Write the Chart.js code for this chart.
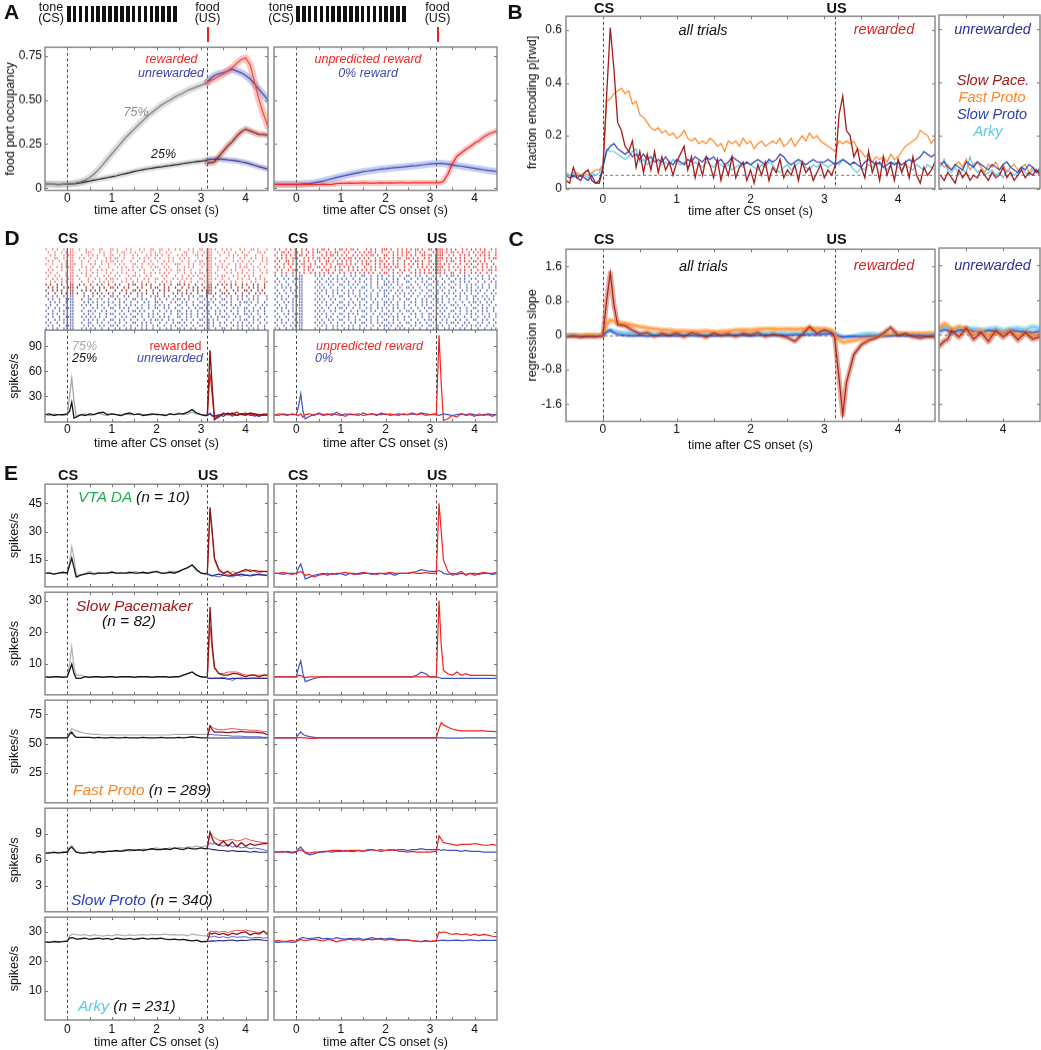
<!DOCTYPE html>
<html lang="en">
<head>
<meta charset="UTF-8">
<title>Reward encoding by cell type</title>
<script src="https://cdn.jsdelivr.net/npm/chart.js"></script>
<style>
  body { margin: 0; width: 1041px; height: 1050px; position: relative; overflow: hidden; background: #fff;
         font-family: "Liberation Sans", Arial, sans-serif; color: #111; }
  canvas { position: absolute; }
  .t { position: absolute; white-space: nowrap; transform: translate(-50%, -50%); line-height: 1; font-size: 12.5px; }
  .l { position: absolute; white-space: nowrap; transform: translate(0, -50%); line-height: 1; font-size: 15.5px; font-style: italic; }
  .it { font-style: italic; }
  .letter { font-weight: bold; font-size: 21px; }
  .ev { font-weight: bold; font-size: 14.5px; }
  .bars { position: absolute; background: repeating-linear-gradient(to right, #111 0, #111 3.6px, transparent 3.6px, transparent 5.9px); }
  .food { position: absolute; width: 2.5px; height: 15px; background: #f01e1e; }
</style>
</head>
<body>

<!-- panel letters -->
<div class="t letter" style="left:11.5px;top:11px">A</div>
<div class="t letter" style="left:515px;top:11px">B</div>
<div class="t letter" style="left:516px;top:238px">C</div>
<div class="t letter" style="left:12px;top:237px">D</div>
<div class="t letter" style="left:11px;top:472px">E</div>

<!-- A: task schematic -->
<div class="t" style="left:51px;top:7px">tone</div>
<div class="t" style="left:51px;top:18px">(CS)</div>
<div class="bars" style="left:67px;top:6px;width:112px;height:16px"></div>
<div class="t" style="left:207.5px;top:7px">food</div>
<div class="t" style="left:207.5px;top:18px">(US)</div>
<div class="food" style="left:206.5px;top:27px"></div>
<div class="t" style="left:281px;top:7px">tone</div>
<div class="t" style="left:281px;top:18px">(CS)</div>
<div class="bars" style="left:296px;top:6px;width:112px;height:16px"></div>
<div class="t" style="left:437.5px;top:7px">food</div>
<div class="t" style="left:437.5px;top:18px">(US)</div>
<div class="food" style="left:436.5px;top:27px"></div>

<!-- A annotations -->
<div class="t it" style="left:171.5px;top:59px;color:#f02828">rewarded</div>
<div class="t it" style="left:171px;top:73px;color:#3a40a8">unrewarded</div>
<div class="t it" style="left:136px;top:112px;color:#8c8c8c">75%</div>
<div class="t it" style="left:163.5px;top:154px;color:#111">25%</div>
<div class="t it" style="left:368px;top:59px;color:#f02828">unpredicted reward</div>
<div class="t it" style="left:368px;top:73px;color:#3a4ab0">0% reward</div>

<!-- B annotations -->
<div class="t ev" style="left:604px;top:8px">CS</div>
<div class="t ev" style="left:836.5px;top:8px">US</div>
<div class="t it" style="left:703px;top:29.5px;font-size:14.5px">all trials</div>
<div class="t it" style="left:884px;top:28.5px;font-size:14.5px;color:#d42323">rewarded</div>
<div class="t it" style="left:992.5px;top:28.5px;font-size:14.5px;color:#2a2e98">unrewarded</div>
<div class="t it" style="left:993px;top:80px;font-size:14.5px;color:#a01818">Slow Pace.</div>
<div class="t it" style="left:992px;top:97px;font-size:14.5px;color:#ff8422">Fast Proto</div>
<div class="t it" style="left:992px;top:114px;font-size:14.5px;color:#2a40b8">Slow Proto</div>
<div class="t it" style="left:988px;top:131px;font-size:14.5px;color:#5ac8e6">Arky</div>

<!-- C annotations -->
<div class="t ev" style="left:604px;top:238.5px">CS</div>
<div class="t ev" style="left:836.5px;top:238.5px">US</div>
<div class="t it" style="left:703.5px;top:265.5px;font-size:14.5px">all trials</div>
<div class="t it" style="left:884px;top:265px;font-size:14.5px;color:#d42323">rewarded</div>
<div class="t it" style="left:992.5px;top:265px;font-size:14.5px;color:#2a2e98">unrewarded</div>

<!-- D annotations -->
<div class="t ev" style="left:68px;top:238px">CS</div>
<div class="t ev" style="left:208px;top:238px">US</div>
<div class="t ev" style="left:298px;top:238px">CS</div>
<div class="t ev" style="left:437px;top:238px">US</div>
<div class="t it" style="left:84.5px;top:345.7px;color:#a8a8a8">75%</div>
<div class="t it" style="left:84.5px;top:358px;color:#111">25%</div>
<div class="t" style="left:175.5px;top:345.7px;color:#f02828">rewarded</div>
<div class="t it" style="left:170px;top:358px;color:#3a4ab0">unrewarded</div>
<div class="t it" style="left:369.5px;top:345.7px;color:#f02828">unpredicted reward</div>
<div class="t it" style="left:324px;top:358px;color:#3a4ab0">0%</div>

<!-- E annotations -->
<div class="t ev" style="left:68px;top:475px">CS</div>
<div class="t ev" style="left:208px;top:475px">US</div>
<div class="t ev" style="left:298px;top:475px">CS</div>
<div class="t ev" style="left:437px;top:475px">US</div>
<div class="l" style="left:78px;top:497px"><span style="color:#1fae50">VTA DA</span> (n = 10)</div>
<div class="l" style="left:76px;top:606px;color:#a01818">Slow Pacemaker</div>
<div class="l" style="left:102px;top:621px">(n = 82)</div>
<div class="l" style="left:73px;top:790px"><span style="color:#ff8422">Fast Proto</span> (n = 289)</div>
<div class="l" style="left:71px;top:900px"><span style="color:#2a40b8">Slow Proto</span> (n = 340)</div>
<div class="l" style="left:78px;top:1006px"><span style="color:#5ac8e6">Arky</span> (n = 231)</div>

<script>
// ---------- time grids ----------
const T_PRE = [-0.5, -0.4, -0.3, -0.2, -0.1, 0, 0.05, 0.1, 0.15, 0.2,
  0.3, 0.4, 0.5, 0.6, 0.7, 0.8, 0.9, 1.0, 1.1, 1.2,
  1.3, 1.4, 1.5, 1.6, 1.7, 1.8, 1.9, 2.0, 2.1, 2.2,
  2.3, 2.4, 2.5, 2.6, 2.7, 2.8, 2.9, 3.0, 3.1, 3.14];
const T_POST = [3.14, 3.2, 3.25, 3.3, 3.4, 3.5, 3.6, 3.7, 3.8, 3.9, 4.0, 4.1, 4.2, 4.3, 4.4, 4.5];
const T_FULL = T_PRE.concat(T_POST.slice(1));
const T_B = [-0.5, -0.45, -0.4, -0.35, -0.3, -0.25, -0.2, -0.15, -0.1, -0.05,
  0, 0.05, 0.1, 0.15, 0.2, 0.25, 0.3, 0.35, 0.4, 0.45,
  0.5, 0.55, 0.6, 0.65, 0.7, 0.75, 0.8, 0.85, 0.9, 0.95,
  1, 1.05, 1.1, 1.15, 1.2, 1.25, 1.3, 1.35, 1.4, 1.45,
  1.5, 1.55, 1.6, 1.65, 1.7, 1.75, 1.8, 1.85, 1.9, 1.95,
  2, 2.05, 2.1, 2.15, 2.2, 2.25, 2.3, 2.35, 2.4, 2.45,
  2.5, 2.55, 2.6, 2.65, 2.7, 2.75, 2.8, 2.85, 2.9, 2.95,
  3, 3.05, 3.1, 3.15, 3.2, 3.25, 3.3, 3.35, 3.4, 3.45,
  3.5, 3.55, 3.6, 3.65, 3.7, 3.75, 3.8, 3.85, 3.9, 3.95,
  4, 4.05, 4.1, 4.15, 4.2, 4.25, 4.3, 4.35, 4.4, 4.45, 4.5];
const T_B2 = T_B.slice(73);
const BIN_HALF = 0.025;
const CS_T = 0, US_T = 3.14;

const X_TITLE = 'time after CS onset (s)';
const X_LABELS = [0, 1, 2, 3, 4];
const X_MINOR = [0, 0.5, 1, 1.5, 2, 2.5, 3, 3.5, 4];
const X_SMALL_LABELS = [4];
const X_SMALL_MINOR = [3.5, 4];

// ---------- A: food port occupancy ----------
const A_PRE75 = [0.022, 0.022, 0.022, 0.021, 0.022, 0.023, 0.024, 0.025, 0.027, 0.03,
  0.036, 0.045, 0.06, 0.08, 0.105, 0.135, 0.165, 0.195, 0.225, 0.255,
  0.285, 0.31, 0.335, 0.36, 0.385, 0.41, 0.43, 0.45, 0.47, 0.485,
  0.5, 0.515, 0.53, 0.54, 0.555, 0.565, 0.575, 0.585, 0.595, 0.6];
const A_PRE25 = [0.022, 0.022, 0.022, 0.021, 0.022, 0.022, 0.023, 0.024, 0.025, 0.026,
  0.03, 0.035, 0.04, 0.045, 0.05, 0.055, 0.06, 0.065, 0.07, 0.077,
  0.082, 0.088, 0.095, 0.1, 0.105, 0.11, 0.113, 0.118, 0.12, 0.125,
  0.128, 0.132, 0.135, 0.14, 0.143, 0.147, 0.15, 0.153, 0.157, 0.158];
const A_RWD75 = [0.6, 0.61, 0.615, 0.62, 0.635, 0.65, 0.665, 0.685, 0.71, 0.73, 0.74, 0.7, 0.6, 0.5, 0.42, 0.35];
const A_UNR75 = [0.605, 0.62, 0.63, 0.64, 0.65, 0.655, 0.665, 0.675, 0.665, 0.655, 0.64, 0.62, 0.59, 0.56, 0.53, 0.5];
const A_RWD25 = [0.14, 0.145, 0.145, 0.15, 0.18, 0.21, 0.24, 0.265, 0.295, 0.32, 0.335, 0.325, 0.315, 0.305, 0.305, 0.3];
const A_UNR25 = [0.16, 0.165, 0.165, 0.165, 0.165, 0.163, 0.16, 0.158, 0.155, 0.15, 0.145, 0.138, 0.13, 0.122, 0.115, 0.108];
const A_ZERO = [0.022, 0.022, 0.022, 0.022, 0.022, 0.022, 0.022, 0.023, 0.024, 0.025,
  0.027, 0.03, 0.035, 0.04, 0.047, 0.053, 0.06, 0.066, 0.072, 0.078,
  0.083, 0.088, 0.093, 0.097, 0.1, 0.104, 0.108, 0.11, 0.113, 0.116,
  0.118, 0.12, 0.123, 0.126, 0.128, 0.131, 0.134, 0.137, 0.139, 0.14,
  0.141, 0.14, 0.139, 0.136, 0.132, 0.128, 0.124, 0.12, 0.116, 0.112, 0.108, 0.104, 0.1, 0.097, 0.094];
const A_UNPRED = [0.02, 0.02, 0.02, 0.02, 0.02, 0.02, 0.02, 0.02, 0.02, 0.02,
  0.02, 0.021, 0.021, 0.022, 0.02, 0.022, 0.026, 0.028, 0.028, 0.029,
  0.028, 0.029, 0.03, 0.029, 0.028, 0.029, 0.03, 0.029, 0.03, 0.029,
  0.03, 0.03, 0.029, 0.03, 0.03, 0.031, 0.03, 0.03, 0.031, 0.031,
  0.031, 0.033, 0.04, 0.08, 0.14, 0.18, 0.2, 0.22, 0.235, 0.255, 0.27, 0.29, 0.305, 0.315, 0.325];
const A_YTICKS = [0, 0.25, 0.5, 0.75];
const A_YLABELS = ['0', '0.25', '0.50', '0.75'];

// ---------- B: fraction encoding p[rwd] ----------
const B_SLOWPACE = [0.03, 0.02, 0.08, 0.04, 0.03, 0.06, 0.07, 0.03, 0.02, 0.02,
  0.07, 0.35, 0.61, 0.45, 0.25, 0.22, 0.16, 0.14, 0.18, 0.08,
  0.14, 0.06, 0.13, 0.07, 0.14, 0.06, 0.12, 0.07, 0.1, 0.05,
  0.1, 0.13, 0.16, 0.07, 0.12, 0.04, 0.1, 0.05, 0.12, 0.09,
  0.04, 0.11, 0.03, 0.09, 0.05, 0.12, 0.04, 0.08, 0.1, 0.03,
  0.07, 0.02, 0.09, 0.05, 0.1, 0.03, 0.08, 0.06, 0.11, 0.04,
  0.07, 0.05, 0.09, 0.03, 0.1, 0.06, 0.08, 0.03, 0.06, 0.09,
  0.04, 0.07, 0.05, 0.09, 0.28, 0.35, 0.22, 0.2, 0.12, 0.15,
  0.08, 0.04, 0.14, 0.06, 0.1, 0.03, 0.12, 0.05, 0.09, 0.03,
  0.11, 0.06, 0.1, 0.04, 0.12, 0.05, 0.02, 0.08, 0.05, 0.07, 0.1];
const B_FASTPROTO = [0.05, 0.05, 0.04, 0.06, 0.05, 0.06, 0.05, 0.06, 0.07, 0.07,
  0.09, 0.33, 0.34, 0.36, 0.37, 0.38, 0.36, 0.37, 0.32, 0.33,
  0.28, 0.27, 0.25, 0.23, 0.22, 0.23, 0.21, 0.22, 0.2, 0.21,
  0.19, 0.2, 0.22, 0.19, 0.18, 0.19, 0.17, 0.18, 0.17, 0.19,
  0.18, 0.16, 0.17, 0.14, 0.18, 0.17, 0.18, 0.16, 0.19, 0.17,
  0.18, 0.15, 0.17, 0.18, 0.16, 0.17, 0.18, 0.17, 0.19, 0.16,
  0.17, 0.19, 0.16, 0.18, 0.2, 0.18, 0.21, 0.19, 0.2, 0.18,
  0.17, 0.16, 0.15, 0.14, 0.18, 0.17, 0.18, 0.17, 0.18, 0.15,
  0.14, 0.12, 0.13, 0.1, 0.12, 0.11, 0.12, 0.1, 0.13, 0.11,
  0.12, 0.14, 0.16, 0.17, 0.18, 0.19, 0.22, 0.21, 0.2, 0.17, 0.19];
const B_SLOWPROTO = [0.05, 0.04, 0.05, 0.04, 0.05, 0.04, 0.03, 0.05, 0.02, 0.03,
  0.08, 0.14, 0.16, 0.17, 0.15, 0.14, 0.13, 0.14, 0.12, 0.13,
  0.11, 0.13, 0.11, 0.12, 0.1, 0.11, 0.1, 0.12, 0.1, 0.09,
  0.11, 0.1, 0.09, 0.11, 0.1, 0.12, 0.11, 0.1, 0.12, 0.11,
  0.12, 0.1, 0.11, 0.09, 0.1, 0.12, 0.11, 0.1, 0.09, 0.1,
  0.09, 0.1, 0.11, 0.1, 0.09, 0.11, 0.1, 0.11, 0.13, 0.12,
  0.1, 0.09, 0.1, 0.11, 0.1, 0.09, 0.1, 0.11, 0.1, 0.1,
  0.1, 0.11, 0.1, 0.09, 0.1, 0.11, 0.1, 0.09, 0.1, 0.09,
  0.08, 0.1, 0.11, 0.1, 0.09, 0.1, 0.08, 0.09, 0.1, 0.09,
  0.1, 0.09, 0.1, 0.11, 0.1, 0.11, 0.12, 0.14, 0.13, 0.12, 0.13];
const B_ARKY = [0.06, 0.05, 0.06, 0.04, 0.05, 0.05, 0.04, 0.06, 0.05, 0.06,
  0.09, 0.15, 0.14, 0.14, 0.13, 0.12, 0.11, 0.12, 0.14, 0.15,
  0.1, 0.11, 0.09, 0.1, 0.12, 0.1, 0.09, 0.1, 0.09, 0.11,
  0.1, 0.09, 0.1, 0.08, 0.09, 0.1, 0.09, 0.08, 0.1, 0.09,
  0.08, 0.1, 0.09, 0.08, 0.09, 0.07, 0.08, 0.09, 0.08, 0.1,
  0.09, 0.08, 0.07, 0.09, 0.08, 0.1, 0.09, 0.07, 0.06, 0.08,
  0.09, 0.07, 0.08, 0.1, 0.09, 0.08, 0.07, 0.09, 0.08, 0.1,
  0.09, 0.08, 0.09, 0.1, 0.09, 0.11, 0.1, 0.09, 0.07, 0.06,
  0.08, 0.07, 0.09, 0.08, 0.1, 0.09, 0.08, 0.07, 0.09, 0.1,
  0.08, 0.07, 0.09, 0.08, 0.07, 0.09, 0.08, 0.07, 0.09, 0.08, 0.07];
const B2_SLOWPACE = [0.05, 0.03, 0.06, 0.04, 0.02, 0.07, 0.04, 0.06, 0.03, 0.05, 0.04, 0.07, 0.05, 0.03,
  0.06, 0.04, 0.05, 0.08, 0.04, 0.06, 0.03, 0.05, 0.07, 0.04, 0.06, 0.05, 0.07, 0.05];
const B2_FASTPROTO = [0.1, 0.08, 0.09, 0.07, 0.09, 0.1, 0.08, 0.11, 0.07, 0.09, 0.1, 0.08, 0.06, 0.09,
  0.08, 0.1, 0.07, 0.09, 0.06, 0.08, 0.09, 0.07, 0.08, 0.09, 0.06, 0.08, 0.07, 0.06];
const B2_SLOWPROTO = [0.09, 0.1, 0.08, 0.07, 0.09, 0.08, 0.07, 0.1, 0.09, 0.08, 0.1, 0.09, 0.08, 0.07,
  0.09, 0.08, 0.07, 0.09, 0.1, 0.08, 0.07, 0.06, 0.08, 0.07, 0.09, 0.08, 0.06, 0.07];
const B2_ARKY = [0.08, 0.11, 0.07, 0.06, 0.08, 0.05, 0.07, 0.06, 0.12, 0.08, 0.06, 0.07, 0.05, 0.06,
  0.07, 0.05, 0.06, 0.04, 0.07, 0.06, 0.05, 0.06, 0.08, 0.06, 0.05, 0.07, 0.06, 0.08];
const B_CHANCE = 0.05;
const B_YTICKS = [0, 0.2, 0.4, 0.6];
const B_YLABELS = ['0', '0.2', '0.4', '0.6'];

// ---------- C: regression slope ----------
const C_SLOWPACE = [-0.03, -0.01, -0.04, -0.02, -0.03, -0.01, 0.8, 1.45, 0.7, 0.25,
  0.22, 0.12, 0.03, 0.06, -0.02, 0.04, 0.0, 0.05, -0.03, 0.06,
  0.02, -0.04, 0.05, 0.0, 0.03, -0.02, 0.04, 0.01, 0.06, -0.02,
  0.03, 0.0, -0.05, -0.14, 0.02, 0.2, 0.04, 0.12, 0.06, -0.05,
  -1.0, -1.85, -1.1, -0.45, -0.22, -0.12, -0.06, 0.05, 0.18, 0.0, 0.04, -0.03, -0.06, -0.03, -0.04];
const C_FASTPROTO = [0.0, -0.01, 0.0, 0.01, 0.0, 0.0, 0.25, 0.35, 0.33, 0.3,
  0.28, 0.24, 0.2, 0.17, 0.15, 0.13, 0.12, 0.1, 0.1, 0.09,
  0.09, 0.1, 0.08, 0.09, 0.1, 0.12, 0.13, 0.12, 0.14, 0.15,
  0.15, 0.14, 0.15, 0.14, 0.15, 0.15, 0.16, 0.15, 0.12, 0.05,
  -0.1, -0.16, -0.15, -0.12, -0.08, -0.05, -0.03, 0.0, 0.02, 0.05, 0.03, 0.05, 0.04, 0.05, 0.05];
const C_ARKY = [0.0, 0.0, -0.01, 0.0, 0.0, 0.0, 0.08, 0.12, 0.1, 0.08,
  0.06, 0.05, 0.04, 0.04, 0.03, 0.03, 0.03, 0.02, 0.03, 0.02,
  0.02, 0.03, 0.02, 0.02, 0.03, 0.03, 0.04, 0.03, 0.04, 0.05,
  0.04, 0.05, 0.04, 0.05, 0.06, 0.05, 0.06, 0.06, 0.07, 0.06,
  0.0, -0.04, -0.05, -0.02, 0.02, 0.04, 0.03, 0.0, 0.02, 0.03, 0.02, 0.0, 0.02, 0.01, 0.02];
const C_SLOWPROTO = [-0.02, -0.01, -0.02, -0.01, -0.02, -0.01, 0.08, 0.12, 0.06, 0.02,
  0.0, -0.01, 0.0, -0.02, 0.0, -0.01, 0.0, -0.01, 0.0, 0.0,
  -0.01, 0.0, -0.01, 0.0, 0.0, 0.01, 0.0, -0.01, 0.0, 0.01,
  0.0, 0.01, 0.0, 0.02, 0.01, 0.02, 0.02, 0.03, 0.04, 0.03,
  -0.02, -0.04, -0.03, -0.02, -0.03, -0.02, -0.01, -0.02, -0.01, 0.0, -0.01, 0.0, 0.0, -0.01, 0.0];
const C2_SLOWPACE = [-0.25, -0.15, -0.1, 0.1, -0.05, 0.15, -0.1, 0.05, -0.15, 0.1, -0.05, 0.08, -0.12, 0.05, -0.1, -0.05];
const C2_FASTPROTO = [0.15, 0.25, 0.2, 0.1, 0.18, 0.12, 0.05, 0.1, 0.0, 0.08, 0.05, 0.1, -0.02, 0.05, 0.0, 0.02];
const C2_ARKY = [0.12, 0.18, 0.15, 0.1, 0.15, 0.12, 0.14, 0.1, 0.12, 0.15, 0.1, 0.13, 0.15, 0.12, 0.18, 0.15];
const C2_SLOWPROTO = [0.08, 0.12, 0.1, 0.05, 0.1, 0.12, 0.08, 0.05, 0.1, 0.08, 0.05, 0.1, 0.08, 0.06, 0.05, 0.08];
const C_YTICKS = [-1.6, -0.8, 0, 0.8, 1.6];
const C_YLABELS = ['-1.6', '-0.8', '0', '0.8', '1.6'];

// ---------- D: example neuron ----------
const D_RASTER_L_RWD75 = [
  "x..x.x..x. .xx..x..x. .x..xx...x x.x...x.x. ..x.x..xx. .xx..x..x. x...x.x..x x..xx.x..x .x.x...x.x ..xx.x...x",
  ".x..x..x.x .xx.....xx x...x.x..x ..x.xx..x. x..x...x.x .x..x.x... ..xx..x.x. .x.xx..x.. x.x..x..x. .x...xx.x.",
  "..x.x...x. xxx...x..x .x.x..x..x x..x.x...x .x...x.x.x x.x..x...x .x.x...xx. x..xx...x. ..x.x.x..x x...x..x..",
  "x...xx..x. .xx..x.x.. x..x...x.x .xx..x...x ..x.x.x..x .x...x.x.. x.x.x...x. ..xxx.x... .x..x..x.x ..x.x..x.x",
  ".x.x..x..x .xx...x..x ..x..x.x.x x.x.x...x. .x..x..x.. x..x.x.x.. .x..x..x.x x..xx...x. x...x.x.x. .x.x...x.x",
  "x..x...x.x .xxx..x... x.x..x..x. .x.x.x...x x..x..x.x. ..x.x...xx x...x.x..x .x.xx.x..x ..x..x.x.. x.x...x..x",
  "..x..x.x.x xxx...x.x. .x..x...x. ..x.x.x..x .x.x...x.x x..x.x...x ..x.x.x... x..xx..x.x .x...x.x.x x..x.x..x.",
  ".x.x...x.. .xx..x..x. x..x.x.x.. x...x..x.x ..x.x...x. .x..x.x..x x.x..x...x ..xxx..x.. x..x.x..x. .x.x..x..x",
  "x.x..x...x .xx...x.x. .x.x...x.x ..x.x.x... x...x..x.x .x.x.x...x ..x..x.x.x x..xx.x... .x.x..x.x. x..x...x.x",
  ".x..x.x..x .xx.x...x. x..x..x.x. .x.x...x.x x.x..x.x.. ..x.x...x. .x..x.x.x. .x.xx..x.x x...x.x..x .x.x..x...",
  "x..x.x.x.. xxx..x...x ..x.x..x.x x.x...x.x. .x..x.x..x x..x...x.x .x.x.x...x x..xx.x..x ..x...x.x. .x..x.x.x.",
  "..x.x..x.x .xx...x..x .x..x.x.x. x...x.x..x .x.x..x..x ..x.x.x... x.x..x..x. .x.xx...x. x..x.x..x. ..x.x...xx"];
const D_RASTER_L_RWD25 = [
  "x.x..x.x.. .xx..x.x.. x..x.x..x. .x.x...x.x x..x.x.x.. .x.x..x..x x.x.x..x.. x..xx..x.x .x.x.x..x. x..x.x..x.",
  ".x.x.x..x. xxx.x...x. .x..x.x..x x.x..x.x.. .x.x...x.x x..x.x..x. .x..x.x.x. .x.xx.x... x..x..x.x. .x.x.x..x.",
  "x..x.x.x.. .xx...x.x. x.x.x..x.. .x..x.x..x x.x..x..x. .x.x.x...x x..x..x.x. x.xxx...x. .x..x.x..x x.x..x.x..",
  ".x..x..x.x .xx.x..x.. .x.x.x..x. x..x..x.x. .x.x.x..x. x..x...x.x .x.x.x..x. ..xxx.x..x x.x..x..x. .x..x.x.x."];
const D_RASTER_L_UNR = [
  "x..x.x..x. .xx....x.x .x..x.x..x x.x..x.x.. .x.x...x.x x..x.x..x. .x..x.x..x x.x..x..x. .x.x..x.x. x..x.x...x",
  ".x.x..x..x xxx...x..x x..x.x..x. .x.x..x..x x..x.x...x .x..x..x.x x.x.x...x. .x..x.x..x x..x..x.x. .x.x.x...x",
  "..x.x.x..x .xx....x.x .x.x..x.x. x..x.x..x. .x..x.x..x x.x...x.x. .x.x..x..x x..x.x..x. .x.x...x.x x.x..x..x.",
  "x.x..x..x. .xx...x.x. x..x.x..x. .x.x..x.x. x..x..x..x .x.x.x...x x..x..x.x. .x.x..x..x x..x.x.x.. .x..x..x.x",
  ".x..x.x..x xxx....x.. .x.x..x..x x..x.x.x.. .x.x..x..x x..x.x..x. .x..x..x.x x.x.x..x.. .x..x.x..x x..x..x.x.",
  "x..x..x.x. .xx...x..x x.x..x.x.. .x..x..x.x x.x.x...x. .x..x.x..x x..x.x..x. .x.x..x.x. x..x..x..x .x.x.x..x.",
  ".x.x.x..x. .xx....x.x .x..x..x.x x..x.x..x. .x.x..x.x. x..x..x..x .x.x.x..x. x..x..x.x. .x..x.x..x x.x..x..x.",
  "x..x..x..x xxx...x.x. x.x.x..x.. .x..x.x..x x..x..x.x. .x.x.x...x x..x.x..x. .x..x..x.x x.x..x.x.. .x.x..x..x",
  ".x..x.x.x. .xx....x.x .x.x..x..x x..x.x..x. .x..x..x.x x.x..x.x.. .x.x..x..x x..x.x.x.. .x..x..x.x x..x.x..x.",
  "x.x..x..x. .xx...x..x x..x.x..x. .x.x..x..x x..x.x.x.. .x..x..x.x x.x..x..x. .x.x.x..x. x..x..x.x. .x.x..x..x",
  ".x.x..x..x xxx....x.x .x..x.x..x x.x..x..x. .x.x.x..x. x..x..x.x. .x.x..x..x x..x.x..x. .x..x.x.x. x.x..x..x.",
  "x..x.x..x. .xx...x.x. x.x..x..x. .x.x..x.x. x..x.x..x. .x..x.x..x x.x..x.x.. .x.x..x..x x..x..x.x. .x.x.x..x."];
const D_RASTER_R_UNPRED = [
  "x.x..x.x.x ..x.x..x.x .xx.x..x.x x.x.xx.x.. .x.x.x..xx x.x..x.x.x .x.xx.x..x x.xxxx.x.x .x..x.x.x. x.x.x..x.x",
  ".x.xx.x..x x.x..x.x.x x..x.x.xx. .x.x..x.x. x.xx.x..x. .x.x.x.x.x x..x.x.x.. .x.xxx.x.x x.x.x..x.x .x.xx.x..x",
  "x..x.x.x.x .xx.x..x.. .x.x.xx.x. x.x..x.x.x .x.xx.x..x x..x.x.x.x .x.x..xx.x x.xxxx..x. x..x.x.x.. x.x.x.x..x",
  ".x.x.x..xx x..x.x.x.x x.x.x..x.x .x.xx.x.x. x.x..x.x.x .x.x.xx..x x.x.x..x.x ..xxxx.x.x .x.x.x..x. .x..x.x.xx",
  "x.x..xx.x. .x.x.x..x. x..xx.x.x. x.x.x..x.x .x.x.x.xx. x..x.x..x. .x.xx.x..x x.xxx..x.x x..x.x.x.x x.x.x..x..",
  ".x..x.x.x. x.xx..x.x. .x.x.x..xx x.x.x.x..x .xx..x.x.x .x.x.x..x. x.x.x.x..x .xxxx.x.x. .x.x..x.x. .x.x.x..x.",
  "x.x.x..x.. .x.x.xx..x x.x..x.x.x .x.x.x.x.. x..x.x.x.x x.x.xx..x. .x..x.x.x. x.xxxx..x. x.x..x.x.x x..x.x.x.x",
  ".x.x..x.xx x..x.x.x.. .x.xx..x.x x..x.x.x.x .x.x.x..x. .x.x..x.x. x..x.x.x.x .xxxx.x.x. .x.x.x..x. .x.x..xx.x",
  "x..x.x..x. .x.x..x.x. x.x.x.x..x .x..x.x.x. x.x.x..x.x x..x.x.x.. .x.x.x.x.x x.xxx.x..x x..x.x..x. x.x..x.x.."];
const D_RASTER_R_ZERO = [
  "x..x.x..x. .xx.....x. x.x..x..x. .x..x.x..x x..x..x.x. .x.x..x..x x..x.x..x. .x..x..x.x x.x..x.x.. .x.x..x..x",
  ".x..x.x..x xxx......x .x..x.x.x. x.x..x..x. .x.x..x.x. x..x.x..x. .x..x.x..x x.x..x..x. .x.x.x..x. x..x..x.x.",
  "x.x..x..x. .xx.....x. x..x.x..x. .x.x..x.x. x..x..x..x .x.x.x...x x..x..x.x. .x.x..x..x x..x.x.x.. .x..x..x.x",
  ".x.x..x..x .xx......x .x..x.x..x x..x.x.x.. .x.x..x..x x.x..x.x.. .x..x..x.x x..x.x..x. .x.x..x.x. x..x..x..x",
  "x..x.x.x.. xxx.....x. x.x..x..x. .x..x.x..x x..x..x.x. .x.x..x..x x.x..x..x. .x..x.x..x x..x..x.x. .x.x..x..x",
  ".x..x..x.x .xx......x .x.x..x.x. x..x.x..x. .x..x..x.x x.x..x.x.. .x.x..x..x x..x.x..x. .x..x.x.x. x.x..x..x.",
  "x.x..x..x. .xx.....x. x..x..x.x. .x.x.x..x. x..x..x..x .x..x.x.x. x.x..x..x. .x.x..x.x. x..x.x..x. .x..x..x.x",
  ".x.x..x..x xxx......x .x..x.x..x x..x..x.x. .x.x..x..x x..x.x..x. .x..x..x.x x.x..x.x.. .x.x..x..x x..x.x..x.",
  "x..x.x..x. .xx.....x. x.x..x.x.. .x..x..x.x x..x.x..x. .x.x..x..x x..x..x.x. .x.x.x..x. x..x..x..x .x..x.x.x.",
  ".x..x.x.x. .xx......x .x.x..x..x x..x.x..x. .x..x.x..x x.x..x..x. .x.x..x.x. x..x.x..x. .x..x..x.x x.x..x.x..",
  "x.x..x..x. xxx.....x. x..x.x..x. .x.x..x.x. x..x..x..x .x.x.x..x. x..x..x.x. .x..x.x..x x.x..x..x. .x.x..x..x",
  ".x.x.x..x. .xx......x .x..x..x.x x.x..x..x. .x.x..x.x. x..x.x..x. .x..x..x.x x..x.x.x.. .x.x..x..x x..x.x..x.",
  "x..x..x.x. .xx.....x. x.x..x.x.. .x..x..x.x x..x.x..x. .x.x..x..x x.x..x..x. .x..x.x..x x..x..x.x. .x.x.x..x.",
  ".x..x.x..x xxx......x .x.x..x..x x..x.x.x.. .x..x..x.x x.x..x.x.. .x.x..x..x x..x.x..x. .x.x..x.x. x..x..x..x",
  "x.x..x..x. .xx.....x. x..x.x..x. .x.x..x..x x..x..x.x. .x.x.x..x. x..x..x..x .x..x.x.x. x.x..x..x. .x..x.x..x",
  ".x.x..x..x .xx......x .x..x.x..x x..x..x.x. .x.x..x..x x..x.x..x. .x..x..x.x x.x..x.x.. .x.x..x..x x..x.x..x.",
  "x..x.x..x. xxx.....x. x.x..x..x. .x..x.x..x x..x..x.x. .x.x..x..x x..x.x..x. .x..x..x.x x.x..x.x.. .x.x..x..x",
  ".x..x..x.x .xx......x .x.x..x.x. x..x.x..x. .x..x..x.x x.x..x.x.. .x.x..x..x x..x.x..x. .x..x.x.x. x.x..x..x.",
  "x.x..x..x. .xx.....x. x..x..x.x. .x.x.x..x. x..x..x..x .x..x.x.x. x.x..x..x. .x.x..x.x. x..x.x..x. .x..x..x.x"];
const D_PRE75 = [8, 7, 9, 8, 7, 8, 30, 52, 25, 6, 8, 9, 7, 8, 10, 8, 7, 9, 8, 7,
  9, 8, 8, 9, 8, 7, 8, 9, 8, 7, 9, 8, 10, 8, 9, 11, 9, 8, 7, 8];
const D_PRE25 = [8, 9, 7, 8, 8, 9, 12, 23, 4, 5, 8, 7, 9, 8, 10, 11, 8, 9, 8, 7,
  9, 10, 8, 9, 7, 8, 9, 8, 8, 7, 9, 8, 9, 9, 11, 14, 10, 8, 7, 7];
const D_RWD25 = [7, 85, 40, 2, 6, 9, 8, 10, 7, 9, 8, 10, 9, 8, 8, 7];
const D_RWD75 = [7, 58, 30, 3, 7, 10, 8, 9, 11, 8, 10, 8, 9, 7, 9, 8];
const D_UNR75 = [8, 10, 6, 7, 5, 10, 9, 6, 11, 8, 7, 9, 6, 8, 7, 8];
const D_UNR25 = [7, 9, 7, 6, 8, 6, 10, 8, 7, 9, 10, 7, 8, 6, 8, 9];
const D_ZERO = [8, 7, 9, 8, 8, 8, 18, 33, 12, 3, 6, 8, 9, 7, 8, 9, 8, 7, 9, 8,
  8, 9, 7, 8, 9, 8, 8, 9, 7, 8, 9, 8, 8, 9, 8, 10, 9, 8, 9, 8,
  7, 8, 9, 8, 7, 8, 9, 8, 9, 8, 7, 8, 9, 8, 8];
const D_UNPRED = [7, 9, 8, 7, 9, 8, 7, 9, 5, 8, 9, 7, 10, 8, 9, 7, 11, 8, 6, 9,
  8, 7, 10, 8, 9, 7, 10, 8, 9, 8, 7, 9, 8, 10, 8, 9, 7, 8, 8, 8,
  103, 45, 1, 3, 7, 5, 9, 7, 8, 6, 9, 7, 8, 6, 9];
const D_YTICKS = [30, 60, 90];

// ---------- E: population PSTHs by cell type ----------
// VTA DA
const E1_PRE75 = [8, 8.5, 7.5, 8, 8, 8.5, 14, 22, 16, 7, 7, 8, 9, 8, 8.5, 8, 8, 9, 8, 8.5,
  8, 8, 9, 8.5, 8, 8, 9, 8.5, 8, 8, 9, 9, 8.5, 10, 11, 12, 9, 8, 8, 8];
const E1_PRE25 = [8, 8, 7.5, 8, 8.5, 8, 12, 16, 11, 6, 7, 7.5, 8, 7.5, 8, 8, 8, 8.5, 8, 8,
  8, 8.5, 8, 8, 8.5, 8, 8.5, 9, 8, 8, 8.5, 8, 9, 10, 11, 12.5, 10, 8, 7.5, 8];
const E1_RWD25 = [8, 43, 30, 16, 10, 8, 9, 7, 8, 9, 10, 9, 9.5, 9, 9, 9];
const E1_RWD75 = [8, 40, 28, 15, 9, 8, 7, 9, 8, 9, 9, 10, 9, 8, 9, 8.5];
const E1_UNR75 = [8, 7, 7, 6.5, 6, 7, 6.5, 6, 7, 6.5, 7, 7, 7.5, 7, 7, 6.5];
const E1_UNR25 = [7.5, 7, 6.5, 7, 7.5, 7, 6.5, 7, 7, 7.5, 7, 6.5, 7, 7.5, 7, 7];
const E1_ZERO = [8, 8, 7.5, 8, 8, 8, 11, 13, 9, 5, 6, 7, 7.5, 8, 7, 8, 7.5, 8, 7, 8,
  8, 7.5, 8, 8, 7.5, 8, 8, 7.5, 8, 7, 8, 8, 8, 8.5, 9, 10, 9.5, 9, 9, 9,
  9.5, 9, 8, 7.5, 8, 7.5, 8, 7.5, 8, 8, 7.5, 8, 8, 7.5, 8];
const E1_UNPRED = [8, 8, 8.5, 8, 7.5, 8, 8.5, 9, 8, 7, 7.5, 6, 7, 7.5, 8, 7.5, 8, 8, 8.5, 8,
  7.5, 8, 8.5, 8, 8, 7.5, 8, 8, 8.5, 8, 8, 8, 8, 8.5, 8, 8, 8.5, 8, 8, 8.5,
  45, 30, 15, 9, 7, 8, 9, 7, 8, 7, 8, 8.5, 8, 8, 8.5];
const E1_YTICKS = [15, 30, 45];
// Slow Pacemaker
const E2_PRE75 = [6, 6, 6, 6, 6, 6, 10, 15.5, 9, 6.5, 6.5, 6, 6, 6, 6, 6, 6, 6, 6, 6,
  6, 6, 6, 6, 6, 6, 6, 6, 6, 6, 6, 6, 6, 6.5, 7, 7.5, 6.5, 6, 6, 6];
const E2_PRE25 = [6, 5.8, 6, 6, 5.8, 6, 8, 10, 7, 5.5, 5.5, 6, 5.8, 6, 6, 5.8, 6, 6, 5.8, 6,
  6, 6, 5.8, 6, 6, 6, 5.8, 6, 6, 6, 5.8, 6, 6, 6.5, 7, 7.5, 6.5, 6, 5.8, 6];
const E2_RWD25 = [6, 28, 16, 9, 7, 6.5, 6.5, 7, 7, 6.5, 6, 6.5, 6.5, 6, 6.5, 6.5];
const E2_RWD75 = [6, 22, 14, 8.5, 7, 7, 7.5, 7.5, 7.5, 7, 6.5, 6.5, 6.5, 6.5, 6.5, 6.5];
const E2_UNR75 = [5.5, 5.5, 5.5, 5.5, 5.5, 5.8, 5.5, 4.8, 5.5, 5.3, 5.5, 5.5, 5.5, 5.5, 5.5, 5.5];
const E2_UNR25 = [5.5, 5.6, 5.4, 5.6, 5.5, 5.5, 5.2, 5.5, 5.5, 5.6, 5.4, 5.5, 5.6, 5.5, 5.5, 5.5];
const E2_ZERO = [6, 6, 6, 6, 6, 6, 9, 11, 7, 4.5, 5, 5.5, 5.8, 6, 6, 6, 6, 6, 6, 6,
  6, 6, 6, 6, 6, 6, 6, 6, 6, 6, 6, 6, 6, 6, 6.5, 7.5, 7, 6, 6, 6,
  5.8, 5.5, 5.5, 5.5, 5.5, 5.5, 5.5, 5.5, 5.5, 5.5, 5.5, 5.5, 5.5, 5.5, 5.5];
const E2_UNPRED = [6, 6, 6, 6, 6, 6, 6.5, 6.5, 6, 5.8, 6, 6, 6, 6, 6, 6, 6, 6, 6, 6,
  6, 6, 6, 6, 6, 6, 6, 6, 6, 6, 6, 6, 6, 6, 6, 6, 6, 6, 6, 6,
  30, 16, 8, 7, 6.5, 7.5, 6.5, 7, 6.5, 6.5, 6.5, 6.5, 6.5, 6.5, 6.3];
const E2_YTICKS = [10, 20, 30];
// Fast Proto
const E3_PRE75 = [55, 55, 55, 55, 55, 55.5, 60, 63, 62, 61, 60, 59, 58.5, 58, 58, 57.5, 57.5, 57.5, 57.5, 57.5,
  57.5, 57.5, 57.5, 57.5, 57.5, 57.5, 57.5, 57.5, 57.5, 57.5, 57.5, 58, 58, 58, 58, 58, 58, 58, 58, 58];
const E3_PRE25 = [55, 55, 55, 55, 55, 55, 58, 60, 57, 55.5, 55.5, 55.5, 55.5, 55, 55.5, 55, 55, 55.5, 55, 55,
  55.5, 55, 55, 55, 55.5, 55, 55, 55, 55.5, 55, 55, 55, 55.5, 55, 55.5, 56, 55.5, 55, 55, 55];
const E3_RWD75 = [58, 66, 64, 63, 62, 62, 62.5, 63, 62.5, 62, 62, 61.5, 61.5, 61, 60.5, 60];
const E3_RWD25 = [55, 65, 62, 60, 60, 60, 59.5, 60, 60, 60.5, 60, 60, 60, 59.5, 59, 57.5];
const E3_UNR75 = [58, 58, 58, 57.5, 57.5, 57, 57, 56.5, 56.5, 56.5, 56, 56, 56, 56, 55.5, 55.5];
const E3_UNR25 = [55, 55, 55, 55, 55, 55, 55, 55, 55, 55, 55, 55, 55, 55, 55, 55];
const E3_ZERO = [55, 55, 55, 55, 55, 55, 58, 60, 58, 57, 56, 55.5, 55, 55, 55, 55, 55, 55, 55, 55,
  55, 55, 55, 55, 55, 55, 55, 55, 55, 55, 55, 55, 55, 55, 55, 55, 55, 55, 55, 55,
  55, 55, 55, 54.8, 54.8, 54.8, 54.8, 55, 55, 55, 55, 55, 55, 55, 55];
const E3_UNPRED = [55, 55, 55, 55, 55, 55, 55, 55.5, 55, 55, 54.5, 54.5, 55, 55, 55, 55, 55, 55, 55, 55,
  55, 55, 55, 55, 55, 55, 55, 55, 55, 55, 55, 55, 55, 55, 55, 55, 55, 55, 55, 55,
  63, 68, 66, 64, 62.5, 61.5, 61, 61, 61, 61, 61, 61, 60.5, 60.5, 60];
const E3_YTICKS = [25, 50, 75];
// Slow Proto
const E4_PRE75 = [6.8, 6.9, 6.8, 6.9, 6.8, 7, 7.5, 7.7, 7.3, 7, 6.8, 6.9, 6.9, 7, 6.9, 7, 7, 7.1, 7, 7.1,
  7.2, 7, 7.2, 7.1, 7.3, 7.2, 7.3, 7.4, 7.3, 7.3, 7.4, 7.3, 7.5, 7.4, 7.5, 7.5, 7.6, 7.5, 7.6, 7.6];
const E4_PRE25 = [6.8, 6.8, 6.9, 6.8, 6.9, 6.9, 7.3, 7.5, 7.2, 6.9, 6.8, 6.8, 6.9, 6.8, 7, 6.9, 7, 7, 7.1, 7,
  7.1, 7.2, 7.1, 7.2, 7.1, 7.2, 7.3, 7.2, 7.2, 7.3, 7.2, 7.4, 7.3, 7.2, 7.4, 7.3, 7.3, 7.4, 7.3, 7.4];
const E4_RWD75 = [7.6, 9.3, 8.8, 8.6, 8.3, 8.2, 8.3, 8.4, 8.2, 8.3, 8.5, 8.3, 8.2, 8.1, 8.0, 8.0];
const E4_RWD25 = [7.4, 9.2, 8.5, 8.0, 7.7, 8.2, 7.6, 8.1, 7.5, 8.0, 7.6, 7.9, 7.7, 7.8, 7.9, 7.9];
const E4_UNR75 = [7.6, 8.0, 7.8, 7.9, 7.7, 7.6, 7.8, 7.5, 7.6, 7.4, 7.5, 7.3, 7.4, 7.3, 7.2, 7.0];
const E4_UNR25 = [7.3, 7.3, 7.2, 7.2, 7.1, 7.1, 7.0, 7.1, 7.0, 7.0, 7.0, 6.9, 7.0, 6.9, 6.9, 6.9];
const E4_ZERO = [6.9, 6.9, 7, 6.9, 6.8, 6.9, 7.3, 7.5, 7.2, 6.8, 6.6, 6.7, 6.9, 6.9, 7, 6.9, 7, 7, 7.1, 7,
  7, 7.1, 7, 7.1, 7.2, 7.1, 7, 7.1, 7.2, 7.1, 7.2, 7.2, 7.1, 7.2, 7.2, 7.3, 7.2, 7.2, 7.2, 7.2,
  7.2, 7.1, 7.2, 7.1, 7.1, 7.1, 7, 7.1, 7, 7, 7, 6.9, 6.9, 6.9, 6.9];
const E4_UNPRED = [7, 6.9, 6.9, 7, 6.9, 7, 7.1, 7.2, 7, 6.9, 6.8, 6.9, 6.9, 7, 7, 7.1, 7.1, 7.1, 7, 7.1,
  7.1, 7.1, 7, 7.2, 7.2, 7.1, 7.2, 7.1, 7.1, 7.2, 7, 7, 6.9, 7, 6.9, 6.9, 6.9, 6.9, 7, 7,
  8.8, 8.4, 8, 7.9, 7.8, 7.7, 7.8, 7.8, 7.8, 7.9, 7.8, 7.7, 7.7, 7.8, 7.7];
const E4_YTICKS = [3, 6, 9];
// Arky
const E5_PRE75 = [26.5, 26.5, 26.8, 26.6, 26.7, 27, 28.5, 29, 29.2, 29, 28.8, 29, 28.6, 29, 28.7, 28.5, 28.8, 28.6, 29, 28.8,
  28.6, 28.9, 28.7, 28.9, 29, 28.8, 29.1, 28.9, 29, 29.2, 28.9, 29, 28.8, 29, 28.6, 29.2, 28.9, 28.7, 28.6, 28.6];
const E5_PRE25 = [26.5, 26.4, 26.6, 26.5, 26.6, 26.8, 27.8, 28, 27.8, 27.5, 27.6, 27.8, 27.4, 27.6, 27.8, 27.5, 27.7, 27.3, 27.8, 27.6,
  27.5, 27.7, 27.4, 27.6, 27.8, 27.5, 27.7, 27.6, 27.8, 27.5, 27.3, 27.5, 27.2, 27.4, 27.1, 26.9, 27.1, 26.6, 26.7, 26.6];
const E5_RWD75 = [28.6, 30.3, 30, 30.2, 29.8, 30.1, 29.7, 30.2, 30.5, 30.3, 30.6, 30.2, 30, 29.6, 30.1, 29.5];
const E5_RWD25 = [26.8, 29.5, 29.2, 29.6, 29, 29.4, 28.8, 29.5, 29.1, 29.7, 29.9, 28.9, 29.5, 29.2, 30.2, 28.9];
const E5_UNR75 = [28.4, 28.2, 28.3, 28.5, 28, 28.3, 27.9, 28.4, 28.1, 28.2, 28.3, 27.8, 28, 28.1, 27.8, 28];
const E5_UNR25 = [26.7, 26.8, 26.9, 26.8, 27, 26.9, 27.1, 27.2, 26.9, 27.1, 27, 27.2, 27.4, 27.3, 27.1, 27];
const E5_ZERO = [26.4, 26.3, 26.5, 26.6, 26.3, 26.5, 27.4, 27.8, 28, 27.8, 27.6, 27.8, 28, 27.5, 27.7, 27.4, 27.9, 27.6, 27.4, 27.7,
  27.5, 27.8, 27.3, 27.6, 27.9, 27.5, 27.7, 27.4, 27.8, 27.5, 27.3, 27.1, 27.2, 26.8, 26.7, 26.6, 26.9, 26.6, 26.7, 26.8,
  26.9, 27, 27.1, 26.9, 27, 27.1, 26.9, 27, 27.2, 27, 26.9, 27.1, 27, 27, 27];
const E5_UNPRED = [26.8, 26.9, 26.7, 26.8, 27, 26.7, 27, 27.3, 27.1, 27, 27.2, 27.4, 27.1, 26.8, 27.3, 27.1, 26.5, 27, 27.2, 27.4,
  27.1, 27.3, 27, 27.4, 27.2, 27.5, 27.3, 27.1, 27.4, 27.2, 27, 27.3, 27.1, 26.9, 26.8, 26.6, 26.8, 26.7, 26.9, 27,
  29.8, 29.6, 29.9, 29.5, 29, 29.3, 28.9, 29.2, 28.7, 29.1, 28.6, 29, 28.8, 28.4, 28.3];
const E5_YTICKS = [10, 20, 30];

// ---------- colours ----------
const RED = 'rgb(240,35,35)';
const DKRED = 'rgb(140,20,20)';
const BLUE = 'rgb(60,80,200)';
const NAVY = 'rgb(40,40,135)';
const GRAY = 'rgb(165,165,165)';
const BLACK = 'rgb(20,20,20)';
const SLOWPACE = 'rgb(165,25,25)';
const FASTPROTO = 'rgb(255,135,35)';
const SLOWPROTO = 'rgb(40,60,185)';
const ARKY = 'rgb(90,200,230)';

Chart.defaults.font.family = '"Liberation Sans", Arial, sans-serif';
Chart.defaults.color = '#111';
Chart.defaults.animation = false;

const PAD = 10;

function pts(xs, ys) { return ys.map((y, i) => ({ x: xs[i], y: y })); }

function line(xs, ys, color, width) {
  return { data: pts(xs, ys), borderColor: color, borderWidth: width || 1.2, pointRadius: 0,
           fill: false, tension: 0, order: 1, clip: 0 };
}
function band(xs, ys, color, width) {
  return { data: pts(xs, ys), borderColor: color, borderWidth: width, pointRadius: 0, fill: false,
           tension: 0, order: 2, clip: 0, borderJoinStyle: 'round', borderCapStyle: 'round' };
}
function raster(rows, offset, color) {
  const out = [];
  rows.forEach((row, r) => {
    row.replace(/ /g, '').split('').forEach((ch, i) => {
      if (ch === 'x') out.push({ x: T_B[i] + BIN_HALF, y: offset + r + 0.5 });
    });
  });
  // short vertical dashes, a little shorter than one row so rows stay apart
  return { type: 'scatter', data: out, pointStyle: 'line', rotation: 90, radius: 1.2,
           borderWidth: 1.3, borderColor: color, backgroundColor: color, clip: 0 };
}

// frame, inner ticks and reference lines
const framePlugin = {
  id: 'frame',
  beforeDatasetsDraw(chart, args, o) {
    const { ctx, chartArea: a } = chart;
    const sx = chart.scales.x, sy = chart.scales.y;
    ctx.save();
    ctx.beginPath(); ctx.rect(a.left, a.top, a.right - a.left, a.bottom - a.top); ctx.clip();
    ctx.lineWidth = 1; ctx.strokeStyle = 'rgb(70,70,70)'; ctx.setLineDash([3, 2.5]);
    (o.vdash || []).forEach(v => {
      const px = Math.round(sx.getPixelForValue(v)) + 0.5;
      ctx.beginPath(); ctx.moveTo(px, a.top); ctx.lineTo(px, a.bottom); ctx.stroke();
    });
    ctx.strokeStyle = 'rgb(120,120,120)';
    (o.hdash || []).forEach(v => {
      const py = Math.round(sy.getPixelForValue(v)) + 0.5;
      ctx.beginPath(); ctx.moveTo(a.left, py); ctx.lineTo(a.right, py); ctx.stroke();
    });
    ctx.restore();
  },
  afterDatasetsDraw(chart, args, o) {
    const { ctx, chartArea: a } = chart;
    const sx = chart.scales.x;
    ctx.save();
    ctx.lineWidth = 1.4; ctx.strokeStyle = 'rgba(90,90,90,0.85)';
    (o.vsolid || []).forEach(v => {
      const px = sx.getPixelForValue(v);
      ctx.beginPath(); ctx.moveTo(px, a.top); ctx.lineTo(px, a.bottom); ctx.stroke();
    });
    ctx.restore();
  },
  afterDraw(chart, args, o) {
    if (!o.box) return;
    const { ctx, chartArea: a } = chart;
    const sx = chart.scales.x, sy = chart.scales.y;
    ctx.save();
    ctx.strokeStyle = 'rgb(140,140,140)'; ctx.lineWidth = 1.5;
    ctx.strokeRect(a.left, a.top, a.right - a.left, a.bottom - a.top);
    ctx.lineWidth = 1; ctx.strokeStyle = 'rgb(120,120,120)';
    (o.xt || []).forEach(v => {
      const px = Math.round(sx.getPixelForValue(v)) + 0.5;
      ctx.beginPath();
      ctx.moveTo(px, a.bottom); ctx.lineTo(px, a.bottom - 3);
      ctx.moveTo(px, a.top); ctx.lineTo(px, a.top + 3);
      ctx.stroke();
    });
    (o.yt || []).forEach(v => {
      const py = Math.round(sy.getPixelForValue(v)) + 0.5;
      ctx.beginPath();
      ctx.moveTo(a.left, py); ctx.lineTo(a.left + 3, py);
      ctx.moveTo(a.right, py); ctx.lineTo(a.right - 3, py);
      ctx.stroke();
    });
    ctx.restore();
  }
};
Chart.register(framePlugin);

function makeChart(s) {
  const ml = s.yw || PAD, mt = PAD, mr = PAD, mb = s.xh || PAD;
  const w = s.r - s.l + ml + mr, h = s.b - s.t + mt + mb;
  const cv = document.createElement('canvas');
  cv.style.left = (s.l - ml) + 'px'; cv.style.top = (s.t - mt) + 'px';
  cv.style.width = w + 'px'; cv.style.height = h + 'px';
  cv.width = w; cv.height = h;
  document.body.insertBefore(cv, document.body.firstChild);
  const xLabels = s.xLabels || X_LABELS;
  new Chart(cv, {
    type: 'line',
    data: { datasets: s.datasets },
    options: {
      responsive: false, animation: false, events: [],
      layout: { padding: { left: s.yw ? 0 : ml, top: mt, right: mr, bottom: s.xh ? 0 : mb } },
      plugins: { legend: { display: false }, tooltip: { enabled: false }, frame: s.frame },
      scales: {
        x: {
          type: 'linear', min: s.x0, max: s.x1, display: !!s.xh,
          grid: { display: false, drawTicks: false }, border: { display: false },
          afterBuildTicks: sc => { sc.ticks = xLabels.map(v => ({ value: v })); },
          afterFit: sc => { sc.height = s.xh || 0; },
          ticks: { padding: s.xpad || 0, font: { size: 12 }, color: '#111', maxRotation: 0, autoSkip: false,
                   callback: v => String(v) },
          title: { display: !!s.xTitle, text: X_TITLE, font: { size: 12.5 }, color: '#111', padding: 0 }
        },
        y: {
          type: 'linear', min: s.y0, max: s.y1, display: !!s.yw, reverse: !!s.yrev,
          grid: { display: false, drawTicks: false }, border: { display: false },
          afterBuildTicks: sc => { sc.ticks = (s.yTicks || []).map(v => ({ value: v })); },
          afterFit: sc => { sc.width = s.yw || 0; },
          ticks: { padding: s.ypad || 3, font: { size: 12 }, color: '#111', autoSkip: false,
                   callback: (v, i) => (s.yLabels ? s.yLabels[i] : String(v)) },
          title: { display: !!s.yTitle, text: s.yTitle, font: { size: 12.5 }, color: '#111',
                   padding: { top: s.yTitlePad || 0, bottom: 0 } }
        }
      }
    }
  });
}

const MAIN_FRAME = (yt) => ({ box: true, xt: X_MINOR, yt: yt, vdash: [CS_T, US_T] });

// ---------- A ----------
makeChart({ l: 45, t: 47, r: 268, b: 190, x0: -0.5, x1: 4.5, y0: -0.013, y1: 0.8,
  yw: 45, yTicks: A_YTICKS, yLabels: A_YLABELS, yTitle: 'food port occupancy', yTitlePad: 3,
  xh: 27.5, xpad: 0.5, xTitle: true, frame: MAIN_FRAME(A_YTICKS),
  datasets: [
    line(T_POST, A_RWD75, 'rgb(240,70,60)', 1.2),
    line(T_POST, A_UNR75, 'rgb(60,70,170)', 1.2),
    line(T_POST, A_RWD25, 'rgb(140,25,20)', 1.2),
    line(T_POST, A_UNR25, 'rgb(45,45,140)', 1.2),
    line(T_PRE, A_PRE75, 'rgb(120,120,120)', 1.2),
    line(T_PRE, A_PRE25, BLACK, 1.2),
    band(T_POST, A_RWD75, 'rgba(245,130,120,0.45)', 7),
    band(T_POST, A_UNR75, 'rgba(110,120,210,0.4)', 7),
    band(T_POST, A_RWD25, 'rgba(185,95,85,0.45)', 6),
    band(T_POST, A_UNR25, 'rgba(110,110,190,0.35)', 6),
    band(T_PRE, A_PRE75, 'rgba(160,160,160,0.35)', 7),
    band(T_PRE, A_PRE25, 'rgba(160,160,160,0.35)', 6)
  ] });
makeChart({ l: 274, t: 47, r: 497, b: 190, x0: -0.5, x1: 4.5, y0: -0.013, y1: 0.8,
  xh: 27.5, xpad: 0.5, xTitle: true, frame: MAIN_FRAME(A_YTICKS),
  datasets: [
    line(T_FULL, A_UNPRED, 'rgb(240,30,30)', 1.2),
    line(T_FULL, A_ZERO, 'rgb(50,70,180)', 1.2),
    band(T_FULL, A_UNPRED, 'rgba(245,120,110,0.4)', 6),
    band(T_FULL, A_ZERO, 'rgba(110,130,220,0.4)', 7)
  ] });

// ---------- B ----------
makeChart({ l: 566, t: 15, r: 935, b: 188, x0: -0.5, x1: 4.5, y0: 0, y1: 0.653,
  yw: 46, yTicks: B_YTICKS, yLabels: B_YLABELS, yTitle: 'fraction encoding p[rwd]', yTitlePad: 5.5, ypad: 4,
  xh: 30.5, xpad: 4, xTitle: true,
  frame: { box: true, xt: X_MINOR, yt: B_YTICKS, vdash: [CS_T, US_T], hdash: [B_CHANCE] },
  datasets: [
    line(T_B, B_SLOWPACE, SLOWPACE, 1.3),
    line(T_B, B_SLOWPROTO, SLOWPROTO, 1.2),
    line(T_B, B_ARKY, ARKY, 1.2),
    line(T_B, B_FASTPROTO, FASTPROTO, 1.2)
  ] });
makeChart({ l: 939, t: 15, r: 1040, b: 188, x0: 3.13, x1: 4.5, y0: 0, y1: 0.653,
  xh: 30.5, xpad: 4, xLabels: X_SMALL_LABELS,
  frame: { box: true, xt: X_SMALL_MINOR, yt: B_YTICKS, hdash: [B_CHANCE] },
  datasets: [
    line(T_B2, B2_SLOWPACE, SLOWPACE, 1.3),
    line(T_B2, B2_SLOWPROTO, SLOWPROTO, 1.2),
    line(T_B2, B2_ARKY, ARKY, 1.2),
    line(T_B2, B2_FASTPROTO, FASTPROTO, 1.2)
  ] });

// ---------- C ----------
makeChart({ l: 566, t: 248, r: 935, b: 421, x0: -0.5, x1: 4.5, y0: -2, y1: 2,
  yw: 46, yTicks: C_YTICKS, yLabels: C_YLABELS, yTitle: 'regression slope', yTitlePad: 5.5, ypad: 4,
  xh: 31.5, xpad: 1, xTitle: true,
  frame: { box: true, xt: X_MINOR, yt: C_YTICKS, vdash: [CS_T, US_T], hdash: [0] },
  datasets: [
    line(T_FULL, C_SLOWPACE, 'rgb(165,35,20)', 1.2),
    line(T_FULL, C_FASTPROTO, 'rgb(255,140,40)', 1.2),
    line(T_FULL, C_SLOWPROTO, 'rgb(50,70,200)', 1.2),
    line(T_FULL, C_ARKY, 'rgb(90,195,230)', 1.2),
    band(T_FULL, C_SLOWPACE, 'rgba(205,95,70,0.55)', 5),
    band(T_FULL, C_FASTPROTO, 'rgba(255,165,85,0.65)', 5),
    band(T_FULL, C_SLOWPROTO, 'rgba(90,110,220,0.4)', 4),
    band(T_FULL, C_ARKY, 'rgba(130,210,240,0.6)', 5)
  ] });
makeChart({ l: 939, t: 248, r: 1040, b: 421, x0: 3.13, x1: 4.5, y0: -2, y1: 2,
  xh: 31.5, xpad: 1, xLabels: X_SMALL_LABELS,
  frame: { box: true, xt: X_SMALL_MINOR, yt: C_YTICKS, hdash: [0] },
  datasets: [
    line(T_POST, C2_SLOWPACE, 'rgb(165,35,20)', 1.2),
    line(T_POST, C2_FASTPROTO, 'rgb(255,140,40)', 1.2),
    line(T_POST, C2_SLOWPROTO, 'rgb(50,70,200)', 1.2),
    line(T_POST, C2_ARKY, 'rgb(90,195,230)', 1.2),
    band(T_POST, C2_SLOWPACE, 'rgba(205,95,70,0.55)', 6),
    band(T_POST, C2_FASTPROTO, 'rgba(255,165,85,0.65)', 6),
    band(T_POST, C2_SLOWPROTO, 'rgba(90,110,220,0.4)', 5),
    band(T_POST, C2_ARKY, 'rgba(130,210,240,0.6)', 6)
  ] });

// ---------- D ----------
const nL1 = D_RASTER_L_RWD75.length, nL2 = D_RASTER_L_RWD25.length, nL3 = D_RASTER_L_UNR.length;
makeChart({ l: 45, t: 248, r: 268, b: 330, x0: -0.5, x1: 4.5, y0: 0, y1: nL1 + nL2 + nL3, yrev: true,
  frame: { vsolid: [CS_T, US_T] },
  datasets: [
    raster(D_RASTER_L_RWD75, 0, 'rgba(240,70,70,0.65)'),
    raster(D_RASTER_L_RWD25, nL1, 'rgba(140,25,25,0.8)'),
    raster(D_RASTER_L_UNR, nL1 + nL2, 'rgba(40,50,150,0.65)')
  ] });
const nR1 = D_RASTER_R_UNPRED.length, nR2 = D_RASTER_R_ZERO.length;
makeChart({ l: 274, t: 248, r: 497, b: 330, x0: -0.5, x1: 4.5, y0: 0, y1: nR1 + nR2, yrev: true,
  frame: { vsolid: [CS_T, US_T] },
  datasets: [
    raster(D_RASTER_R_UNPRED, 0, 'rgba(240,40,40,0.8)'),
    raster(D_RASTER_R_ZERO, nR1, 'rgba(40,55,160,0.65)')
  ] });
makeChart({ l: 45, t: 330, r: 268, b: 422, x0: -0.5, x1: 4.5, y0: -0.8, y1: 109.2,
  yw: 45, yTicks: D_YTICKS, yTitle: 'spikes/s', yTitlePad: 7.5,
  xh: 29, xpad: 0, xTitle: true, frame: MAIN_FRAME(D_YTICKS),
  datasets: [
    line(T_POST, D_RWD25, DKRED, 1.4),
    line(T_POST, D_RWD75, RED, 1.1),
    line(T_POST, D_UNR25, NAVY, 1.1),
    line(T_POST, D_UNR75, BLUE, 1.1),
    line(T_PRE, D_PRE25, BLACK, 1.3),
    line(T_PRE, D_PRE75, GRAY, 1.3)
  ] });
makeChart({ l: 274, t: 330, r: 497, b: 422, x0: -0.5, x1: 4.5, y0: -0.8, y1: 109.2,
  xh: 29, xpad: 0, xTitle: true, frame: MAIN_FRAME(D_YTICKS),
  datasets: [
    line(T_FULL, D_UNPRED, RED, 1.2),
    line(T_FULL, D_ZERO, BLUE, 1.2)
  ] });

// ---------- E ----------
const E_PANELS = [
  { t: 484, b: 587, y0: 0.8, y1: 55.2, yt: E1_YTICKS, pre75: E1_PRE75, pre25: E1_PRE25, rwd75: E1_RWD75, rwd25: E1_RWD25, unr75: E1_UNR75, unr25: E1_UNR25, zero: E1_ZERO, unpred: E1_UNPRED },
  { t: 592, b: 695, y0: 0.3, y1: 32.7, yt: E2_YTICKS, pre75: E2_PRE75, pre25: E2_PRE25, rwd75: E2_RWD75, rwd25: E2_RWD25, unr75: E2_UNR75, unr25: E2_UNR25, zero: E2_ZERO, unpred: E2_UNPRED },
  { t: 700, b: 803, y0: -0.2, y1: 87.1, yt: E3_YTICKS, pre75: E3_PRE75, pre25: E3_PRE25, rwd75: E3_RWD75, rwd25: E3_RWD25, unr75: E3_UNR75, unr25: E3_UNR25, zero: E3_ZERO, unpred: E3_UNPRED },
  { t: 808, b: 912, y0: 0, y1: 12, yt: E4_YTICKS, pre75: E4_PRE75, pre25: E4_PRE25, rwd75: E4_RWD75, rwd25: E4_RWD25, unr75: E4_UNR75, unr25: E4_UNR25, zero: E4_ZERO, unpred: E4_UNPRED },
  { t: 917, b: 1020, y0: 0.1, y1: 34.9, yt: E5_YTICKS, pre75: E5_PRE75, pre25: E5_PRE25, rwd75: E5_RWD75, rwd25: E5_RWD25, unr75: E5_UNR75, unr25: E5_UNR25, zero: E5_ZERO, unpred: E5_UNPRED }
];
E_PANELS.forEach((p, k) => {
  const last = k === E_PANELS.length - 1;
  makeChart({ l: 45, t: p.t, r: 268, b: p.b, x0: -0.5, x1: 4.5, y0: p.y0, y1: p.y1,
    yw: 45, yTicks: p.yt, yTitle: 'spikes/s', yTitlePad: 7.5,
    xh: last ? 30 : 0, xpad: 2, xTitle: last, frame: MAIN_FRAME(p.yt),
    datasets: [
      line(T_POST, p.rwd25, DKRED, 1.3),
      line(T_POST, p.rwd75, 'rgb(245,75,75)', 1.0),
      line(T_POST, p.unr25, NAVY, 1.1),
      line(T_POST, p.unr75, 'rgb(80,100,215)', 1.0),
      line(T_PRE, p.pre25, BLACK, 1.3),
      line(T_PRE, p.pre75, 'rgb(175,175,175)', 1.2)
    ] });
  makeChart({ l: 274, t: p.t, r: 497, b: p.b, x0: -0.5, x1: 4.5, y0: p.y0, y1: p.y1,
    xh: last ? 30 : 0, xpad: 2, xTitle: last, frame: MAIN_FRAME(p.yt),
    datasets: [
      line(T_FULL, p.unpred, RED, 1.2),
      line(T_FULL, p.zero, BLUE, 1.2)
    ] });
});
</script>
</body>
</html>
